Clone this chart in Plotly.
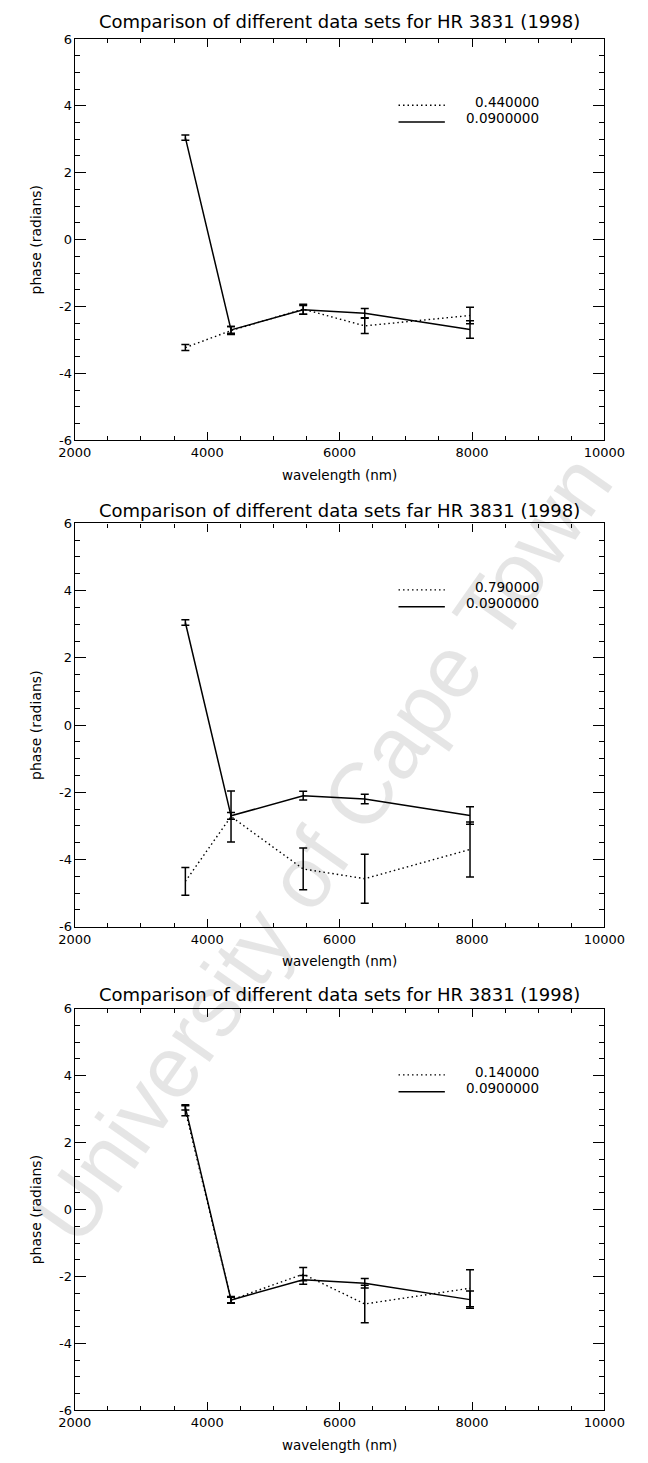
import plotly.graph_objects as go

# ---- data -------------------------------------------------------------
wavelength = [3670, 4360, 5450, 6380, 7970]

# reference data set (0.0900000), drawn solid in every panel
ref_label = "0.0900000"
ref_phase = [3.05, -2.70, -2.10, -2.20, -2.69]
ref_err = [0.08, 0.10, 0.13, 0.14, 0.26]

# comparison data sets, drawn dotted
cmp_labels = ["0.440000", "0.790000", "0.140000"]
cmp_phase = [
    [-3.23, -2.72, -2.08, -2.58, -2.27],
    [-4.65, -2.72, -4.28, -4.57, -3.70],
    [2.95, -2.70, -1.93, -2.82, -2.35],
]
cmp_err = [
    [0.09, 0.12, 0.15, 0.23, 0.25],
    [0.41, 0.76, 0.62, 0.73, 0.82],
    [0.15, 0.08, 0.20, 0.56, 0.55],
]

titles = [
    "Comparison of different data sets for HR 3831 (1998)",
    "Comparison of different data sets far HR 3831 (1998)",
    "Comparison of different data sets for HR 3831 (1998)",
]

x_tick_vals = [2000, 4000, 6000, 8000, 10000]
x_tick_text = ["2000", "4000", "6000", "8000", "10000"]
y_tick_vals = [-6, -4, -2, 0, 2, 4, 6]
y_tick_text = ["-6", "-4", "-2", "0", "2", "4", "6"]

x_title = "wavelength (nm)"
y_title = "phase (radians)"
watermark = "University of Cape Town"

# ---- page geometry (pixels) ------------------------------------------
W, H = 648, 1463
plot_left, plot_right = 61.4, 624.0
panel_px = [(32.3, 437.7), (521.7, 929.3), (1012.0, 1418.0)]
title_px = [15.0, 509.0, 998.0]


def py(px):
    return 1 - px / H


def pxx(px):
    return px / W


FONT = "DejaVu Sans, sans-serif"
WM_FONT = "Liberation Sans, Arial, sans-serif"
BLACK = "#000000"
DOTS = "1.5px,3px"

fig = go.Figure()

for i in range(3):
    n = "" if i == 0 else str(i + 1)
    xa, ya = "x" + n, "y" + n
    top, bot = panel_px[i]

    # comparison set (dotted)
    fig.add_trace(go.Scatter(
        x=wavelength, y=cmp_phase[i], xaxis=xa, yaxis=ya,
        mode="lines", line=dict(color=BLACK, width=1.4, dash=DOTS),
        error_y=dict(type="data", array=cmp_err[i], visible=True,
                     color=BLACK, thickness=1.5, width=4),
        showlegend=False,
    ))
    # reference set (solid)
    fig.add_trace(go.Scatter(
        x=wavelength, y=ref_phase, xaxis=xa, yaxis=ya,
        mode="lines", line=dict(color=BLACK, width=1.5),
        error_y=dict(type="data", array=ref_err, visible=True,
                     color=BLACK, thickness=1.5, width=4),
        showlegend=False,
    ))

    axis_common = dict(
        showgrid=False, zeroline=False, showline=True, linecolor=BLACK,
        linewidth=1.4, mirror="ticks", ticks="inside", tickcolor=BLACK,
        tickwidth=1, tickfont=dict(family=FONT, size=13, color=BLACK),
    )
    fig.update_layout({
        ("xaxis" + n): dict(
            axis_common, domain=[pxx(plot_left), pxx(plot_right)],
            anchor=ya, range=[2000, 10000], tickmode="array",
            tickvals=x_tick_vals, ticktext=x_tick_text, ticklen=8,
            minor=dict(dtick=500, ticklen=4, ticks="inside",
                       tickcolor=BLACK, tickwidth=1, showgrid=False),
        ),
        ("yaxis" + n): dict(
            axis_common, domain=[py(bot), py(top)], anchor=xa,
            range=[-6, 6], tickmode="array", tickvals=y_tick_vals,
            ticktext=y_tick_text, ticklen=11, ticklabelstandoff=-1,
            minor=dict(dtick=0.5, ticklen=5.5, ticks="inside",
                       tickcolor=BLACK, tickwidth=1, showgrid=False),
        ),
    })

    # legend samples
    fig.add_shape(type="line", xref=xa, yref=ya, x0=6890, x1=7590,
                  y0=4.02, y1=4.02, line=dict(color=BLACK, width=1.4, dash=DOTS))
    fig.add_shape(type="line", xref=xa, yref=ya, x0=6890, x1=7590,
                  y0=3.52, y1=3.52, line=dict(color=BLACK, width=1.5))
    fig.add_annotation(x=9040, y=4.12, xref=xa, yref=ya, text=cmp_labels[i],
                       xanchor="right", yanchor="middle", showarrow=False,
                       font=dict(family=FONT, size=13.5, color=BLACK))
    fig.add_annotation(x=9040, y=3.64, xref=xa, yref=ya, text=ref_label,
                       xanchor="right", yanchor="middle", showarrow=False,
                       font=dict(family=FONT, size=13.5, color=BLACK))

    # panel title and axis titles
    cx = pxx((plot_left + plot_right) / 2)
    fig.add_annotation(x=cx, y=py(title_px[i]), xref="paper", yref="paper",
                       text=titles[i], showarrow=False, xanchor="center",
                       yanchor="middle",
                       font=dict(family=FONT, size=18, color=BLACK))
    fig.add_annotation(x=cx, y=py(bot + 35), xref="paper", yref="paper",
                       text=x_title, showarrow=False, xanchor="center",
                       yanchor="middle",
                       font=dict(family=FONT, size=13.5, color=BLACK))
    fig.add_annotation(x=pxx(20), y=py((top + bot) / 2), xref="paper",
                       yref="paper", text=y_title, showarrow=False,
                       textangle=-90, xanchor="center", yanchor="middle",
                       font=dict(family=FONT, size=14, color=BLACK))

# diagonal watermark, sized to stay inside the page
fig.add_annotation(x=pxx(324), y=py(850), xref="paper", yref="paper",
                   text=watermark, showarrow=False, textangle=-55,
                   xanchor="center", yanchor="middle",
                   font=dict(family=WM_FONT, size=87, color="rgba(0,0,0,0.1)"))

fig.update_layout(
    width=W, height=H, margin=dict(l=0, r=0, t=0, b=0),
    paper_bgcolor="white", plot_bgcolor="white", showlegend=False,
)

fig.write_html("out.html")
